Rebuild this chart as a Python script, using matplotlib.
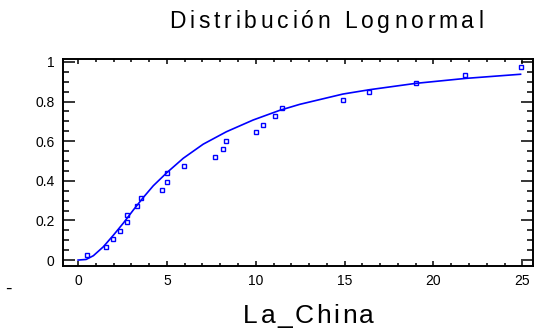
import matplotlib
matplotlib.use("Agg")
import matplotlib.pyplot as plt
from matplotlib.ticker import MultipleLocator

plt.rcParams["font.family"] = ["Liberation Sans", "DejaVu Sans"]

# Observed cumulative proportions for La_China
obs_x = [0.49, 1.57, 1.95, 2.34, 2.73, 2.75, 3.30, 3.52, 4.70, 5.00, 5.00, 5.94,
         7.73, 8.18, 8.35, 10.00, 10.39, 11.09, 11.48, 14.90, 16.39, 19.03, 21.80, 24.90]
obs_y = [0.025, 0.067, 0.104, 0.148, 0.190, 0.229, 0.271, 0.313, 0.352, 0.395, 0.438, 0.477,
         0.521, 0.560, 0.602, 0.645, 0.684, 0.726, 0.768, 0.806, 0.850, 0.892, 0.933, 0.975]

# Fitted lognormal cumulative distribution
fit_x = [0.0, 0.45, 0.86, 1.42, 1.99, 2.55, 3.11, 3.67, 4.23, 4.98, 5.92, 7.04,
         8.35, 9.85, 11.35, 12.47, 14.90, 16.40, 19.00, 21.80, 24.90]
fit_y = [0.0, 0.003, 0.022, 0.067, 0.126, 0.187, 0.253, 0.316, 0.375, 0.440, 0.514, 0.585,
         0.648, 0.707, 0.756, 0.786, 0.838, 0.860, 0.892, 0.917, 0.938]

x_ticks = [0, 5, 10, 15, 20, 25]
y_ticks = [0, 0.2, 0.4, 0.6, 0.8, 1]
y_tick_labels = ["0", "0.2", "0.4", "0.6", "0.8", "1"]

W, H = 540, 334
fig = plt.figure(figsize=(W / 100, H / 100), dpi=100)
ax = fig.add_axes([63 / W, 1 - 266 / H, (533 - 63) / W, (266 - 59) / H])

blue = "#0000FF"
ax.plot(fit_x, fit_y, color=blue, lw=1.2, zorder=3)
ax.plot(obs_x, obs_y, linestyle="none", marker="s", markersize=3.4,
        markerfacecolor="none", markeredgecolor=blue, markeredgewidth=1.0, zorder=4)

ax.set_xlim(-0.85, 25.6)
ax.set_ylim(-0.03, 1.015)
ax.set_xticks(x_ticks)
ax.set_xticklabels([str(v) for v in x_ticks])
ax.set_yticks(y_ticks)
ax.set_yticklabels(y_tick_labels)
ax.xaxis.set_minor_locator(MultipleLocator(1))
ax.yaxis.set_minor_locator(MultipleLocator(0.05))

for s in ax.spines.values():
    s.set_linewidth(1.4)
ax.tick_params(axis="both", which="both", direction="in", top=True, right=True,
               width=1.1, colors="black", labelsize=10)
ax.tick_params(axis="y", which="major", length=8.5, pad=6)
ax.tick_params(axis="y", which="minor", length=4.3)
ax.tick_params(axis="x", which="major", length=3.8, pad=6)
ax.tick_params(axis="x", which="minor", length=2.0)


def spaced_text(s, right_px, baseline_px, size, gap_px):
    """Draw letter-spaced text ending at right_px (figure pixels from the left)."""
    r = fig.canvas.get_renderer()

    def width(t):
        tt = fig.text(0, 0, t, fontsize=size)
        w = tt.get_window_extent(r).width
        tt.remove()
        return w

    base = width("||")
    widths = [width("|" + ch + "|") - base for ch in s]
    total = sum(widths) + gap_px * (len(s) - 1)
    x = right_px - total
    for ch, w in zip(s, widths):
        fig.text(x / W, 1 - baseline_px / H, ch, fontsize=size,
                 ha="left", va="baseline", color="black")
        x += w + gap_px


fig.canvas.draw()
spaced_text("Distribución Lognormal", 483, 28, 16.5, 3.8)
spaced_text("La_China", 374, 323, 19, 2.5)
fig.text(8 / W, 1 - 294 / H, "-", fontsize=14, ha="center", va="baseline")

fig.savefig("out.png", dpi=100)
